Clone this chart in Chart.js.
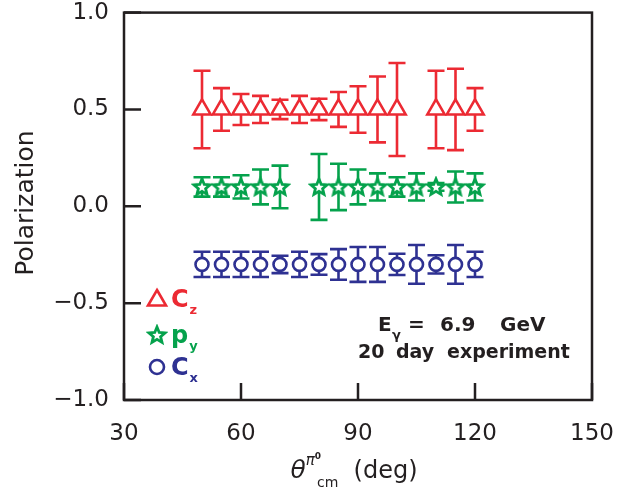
<!DOCTYPE html>
<html><head><meta charset="utf-8">
<script src="https://cdn.jsdelivr.net/npm/chart.js@4.4.0/dist/chart.umd.min.js"></script>
<style>html,body{margin:0;padding:0;background:#fff;}#wrap{width:624px;height:503px;}</style>
</head><body><div id="wrap"><canvas id="c" width="624" height="503"></canvas></div>
<script>
// ---- data ----
const czAngles = [50,55,60,65,70,75,80,85,90,95,100,110,115,120];
const czValues = [0.5,0.5,0.5,0.5,0.5,0.5,0.5,0.5,0.5,0.5,0.5,0.5,0.5,0.5];
const czErrors = [0.20,0.11,0.08,0.07,0.05,0.07,0.055,0.09,0.12,0.17,0.24,0.20,0.21,0.11];

const pyAngles = [50,55,60,65,70,80,85,90,95,100,105,110,115,120];
const pyValues = [0.1,0.1,0.1,0.1,0.1,0.1,0.1,0.1,0.1,0.1,0.1,0.1,0.1,0.1];
const pyErrors = [0.05,0.05,0.06,0.09,0.11,0.17,0.12,0.09,0.07,0.05,0.07,0.02,0.08,0.07];

const cxAngles = [50,55,60,65,70,75,80,85,90,95,100,105,110,115,120];
const cxValues = [-0.3,-0.3,-0.3,-0.3,-0.3,-0.3,-0.3,-0.3,-0.3,-0.3,-0.3,-0.3,-0.3,-0.3,-0.3];
const cxErrors = [0.065,0.065,0.065,0.065,0.045,0.065,0.053,0.079,0.09,0.09,0.055,0.10,0.047,0.10,0.065];

const xTicks = [30,60,90,120,150];
const xTickLabels = ['30','60','90','120','150'];
const yTicks = [-1,-0.5,0,0.5,1];
const yTickLabels = ['\u22121.0','\u22120.5','0.0','0.5','1.0'];

const RED = '#ec2a33', GREEN = '#05a24c', BLUE = '#2e3192', INK = '#231f20';
const FONT = 'DejaVu Sans';

function starCanvas(){
  const c = document.createElement('canvas'); c.width = 22; c.height = 22;
  const g = c.getContext('2d');
  g.beginPath();
  for (let i=0;i<10;i++){
    const r = i%2===0 ? 8.5 : 3.8;
    const a = -Math.PI/2 + i*Math.PI/5;
    const px = 11 + r*Math.cos(a), py = 11.5 + r*Math.sin(a);
    i===0 ? g.moveTo(px,py) : g.lineTo(px,py);
  }
  g.closePath();
  g.fillStyle = '#fff'; g.fill();
  g.lineWidth = 2.8; g.lineJoin='miter'; g.strokeStyle = GREEN; g.stroke();
  return c;
}
const STAR = starCanvas();

function pts(xs, ys){ return xs.map((x,i)=>({x:x, y:ys[i]})); }

const datasets = [
  {label:'Cz', data:pts(czAngles,czValues), errors:czErrors, color:RED,
   pointStyle:'triangle', pointRadius:10, borderWidth:2.6, borderColor:RED, backgroundColor:'#fff', showLine:false},
  {label:'py', data:pts(pyAngles,pyValues), errors:pyErrors, color:GREEN,
   pointStyle:STAR, pointRadius:9, borderWidth:0, borderColor:GREEN, backgroundColor:'#fff', showLine:false},
  {label:'Cx', data:pts(cxAngles,cxValues), errors:cxErrors, color:BLUE,
   pointStyle:'circle', pointRadius:6.5, borderWidth:2.6, borderColor:BLUE, backgroundColor:'#fff', showLine:false}
];

const errorBars = {
  id:'errorBars',
  beforeDatasetsDraw(chart){
    const ctx = chart.ctx, xs = chart.scales.x, ys = chart.scales.y;
    ctx.save();
    chart.data.datasets.forEach(ds=>{
      ctx.strokeStyle = ds.color; ctx.lineWidth = 2.6; ctx.lineCap='butt';
      ds.data.forEach((p,i)=>{
        const e = ds.errors[i];
        const px = xs.getPixelForValue(p.x);
        const top = ys.getPixelForValue(p.y + e), bot = ys.getPixelForValue(p.y - e);
        ctx.beginPath();
        ctx.moveTo(px, top); ctx.lineTo(px, bot);
        ctx.moveTo(px-8.5, top); ctx.lineTo(px+8.5, top);
        ctx.moveTo(px-8.5, bot); ctx.lineTo(px+8.5, bot);
        ctx.stroke();
      });
    });
    ctx.restore();
  }
};

const decorations = {
  id:'decorations',
  afterDraw(chart){
    const ctx = chart.ctx, a = chart.chartArea, xs = chart.scales.x, ys = chart.scales.y;
    ctx.save();
    // frame
    ctx.strokeStyle = INK; ctx.lineWidth = 2.5;
    ctx.strokeRect(a.left, a.top, a.right-a.left, a.bottom-a.top);
    ctx.beginPath();
    xTicks.forEach(v=>{ const p = xs.getPixelForValue(v); ctx.moveTo(p,a.bottom); ctx.lineTo(p,a.bottom-17); });
    yTicks.forEach(v=>{ const p = ys.getPixelForValue(v); ctx.moveTo(a.left,p); ctx.lineTo(a.left+17,p); });
    ctx.stroke();

    // y title
    ctx.fillStyle = INK;
    ctx.save();
    ctx.translate(26, 203); ctx.rotate(-Math.PI/2);
    ctx.font = '25px "'+FONT+'"'; ctx.textAlign='center'; ctx.textBaseline='middle';
    ctx.fillText('Polarization', 0, 0);
    ctx.restore();

    // x title: theta^{pi0}_{cm} (deg)
    const base = 478;
    const parts = [
      {t:'\u03b8', f:'italic 25px "'+FONT+'"', dy:0},
      {t:'\u03c0', f:'italic 15px "'+FONT+'"', dy:-13},
      {t:'0', f:'bold 9px "'+FONT+'"', dy:-19},
      {t:'cm', f:'14px "'+FONT+'"', dy:9},
      {t:'  (deg)', f:'24px "'+FONT+'"', dy:0}
    ];
    parts.forEach(p=>{ ctx.font=p.f; p.w = ctx.measureText(p.t).width; });
    const total = parts.reduce((s,p)=>s+p.w,0) - 4;
    let x = 354 - total/2;
    ctx.textAlign='left'; ctx.textBaseline='alphabetic';
    parts.forEach(p=>{ ctx.font=p.f; ctx.fillText(p.t, x, base+p.dy); x += p.w; if(p.t==='0') x -= 4; });

    // legend
    const lx = 157;
    const rows = [
      {y:299, color:RED, sym:'tri', main:'C', sub:'z'},
      {y:335, color:GREEN, sym:'star', main:'p', sub:'y'},
      {y:367, color:BLUE, sym:'circ', main:'C', sub:'x'}
    ];
    rows.forEach(r=>{
      ctx.strokeStyle = r.color; ctx.fillStyle = r.color; ctx.lineWidth = 2.6;
      if (r.sym==='tri'){
        ctx.beginPath(); ctx.moveTo(lx, r.y-9); ctx.lineTo(lx+9, r.y+6.5); ctx.lineTo(lx-9, r.y+6.5); ctx.closePath(); ctx.stroke();
      } else if (r.sym==='star'){
        ctx.drawImage(STAR, lx-11, r.y-11);
      } else {
        ctx.beginPath(); ctx.arc(lx, r.y, 7, 0, Math.PI*2); ctx.stroke();
      }
      ctx.fillStyle = r.color;
      ctx.font = 'bold 24px "'+FONT+'"'; ctx.textAlign='left'; ctx.textBaseline='alphabetic';
      ctx.fillText(r.main, 171, r.y + 8);
      const w = ctx.measureText(r.main).width;
      ctx.font = 'bold 13px "'+FONT+'"';
      ctx.fillText(r.sub, 171 + w + 1, r.y + 15);
    });

    // annotation
    ctx.fillStyle = INK; ctx.textBaseline='alphabetic';
    ctx.font = 'bold 20px "'+FONT+'"';
    ctx.textAlign='left';
    ctx.fillText('E', 378, 331);
    ctx.font = 'bold 13px "'+FONT+'"';
    ctx.fillText('\u03b3', 392, 339);
    ctx.font = 'bold 20px "'+FONT+'"';
    ctx.fillText('=', 408, 331);
    ctx.fillText('6.9', 440, 331);
    ctx.fillText('GeV', 500, 331);
    ctx.font = 'bold 19px "'+FONT+'"';
    ctx.fillText('20', 358, 358);
    ctx.fillText('day', 396, 358);
    ctx.fillText('experiment', 447, 358);
    ctx.restore();
  }
};

new Chart(document.getElementById('c'), {
  type:'scatter',
  data:{datasets},
  options:{
    responsive:false, animation:false, devicePixelRatio:1,
    layout:{padding:{top:11,right:32,left:0,bottom:0}},
    plugins:{legend:{display:false}, tooltip:{enabled:false}},
    scales:{
      x:{type:'linear', min:30, max:150,
        afterBuildTicks:s=>{ s.ticks = xTicks.map(v=>({value:v})); },
        ticks:{callback:v=>xTickLabels[xTicks.indexOf(v)], font:{family:FONT,size:23}, color:INK, padding:20, maxRotation:0, autoSkip:false},
        grid:{display:false, drawTicks:false}, border:{display:false},
        afterFit:s=>{ s.height = 103; s.paddingLeft = 0; s.paddingRight = 0; }},
      y:{type:'linear', min:-1, max:1,
        afterBuildTicks:s=>{ s.ticks = yTicks.map(v=>({value:v})); },
        ticks:{callback:v=>yTickLabels[yTicks.indexOf(v)], font:{family:FONT,size:23}, color:INK, padding:15, autoSkip:false},
        grid:{display:false, drawTicks:false}, border:{display:false},
        afterFit:s=>{ s.width = 124; s.paddingTop = 0; s.paddingBottom = 0; }}
    }
  },
  plugins:[errorBars, decorations]
});
</script></body></html>
